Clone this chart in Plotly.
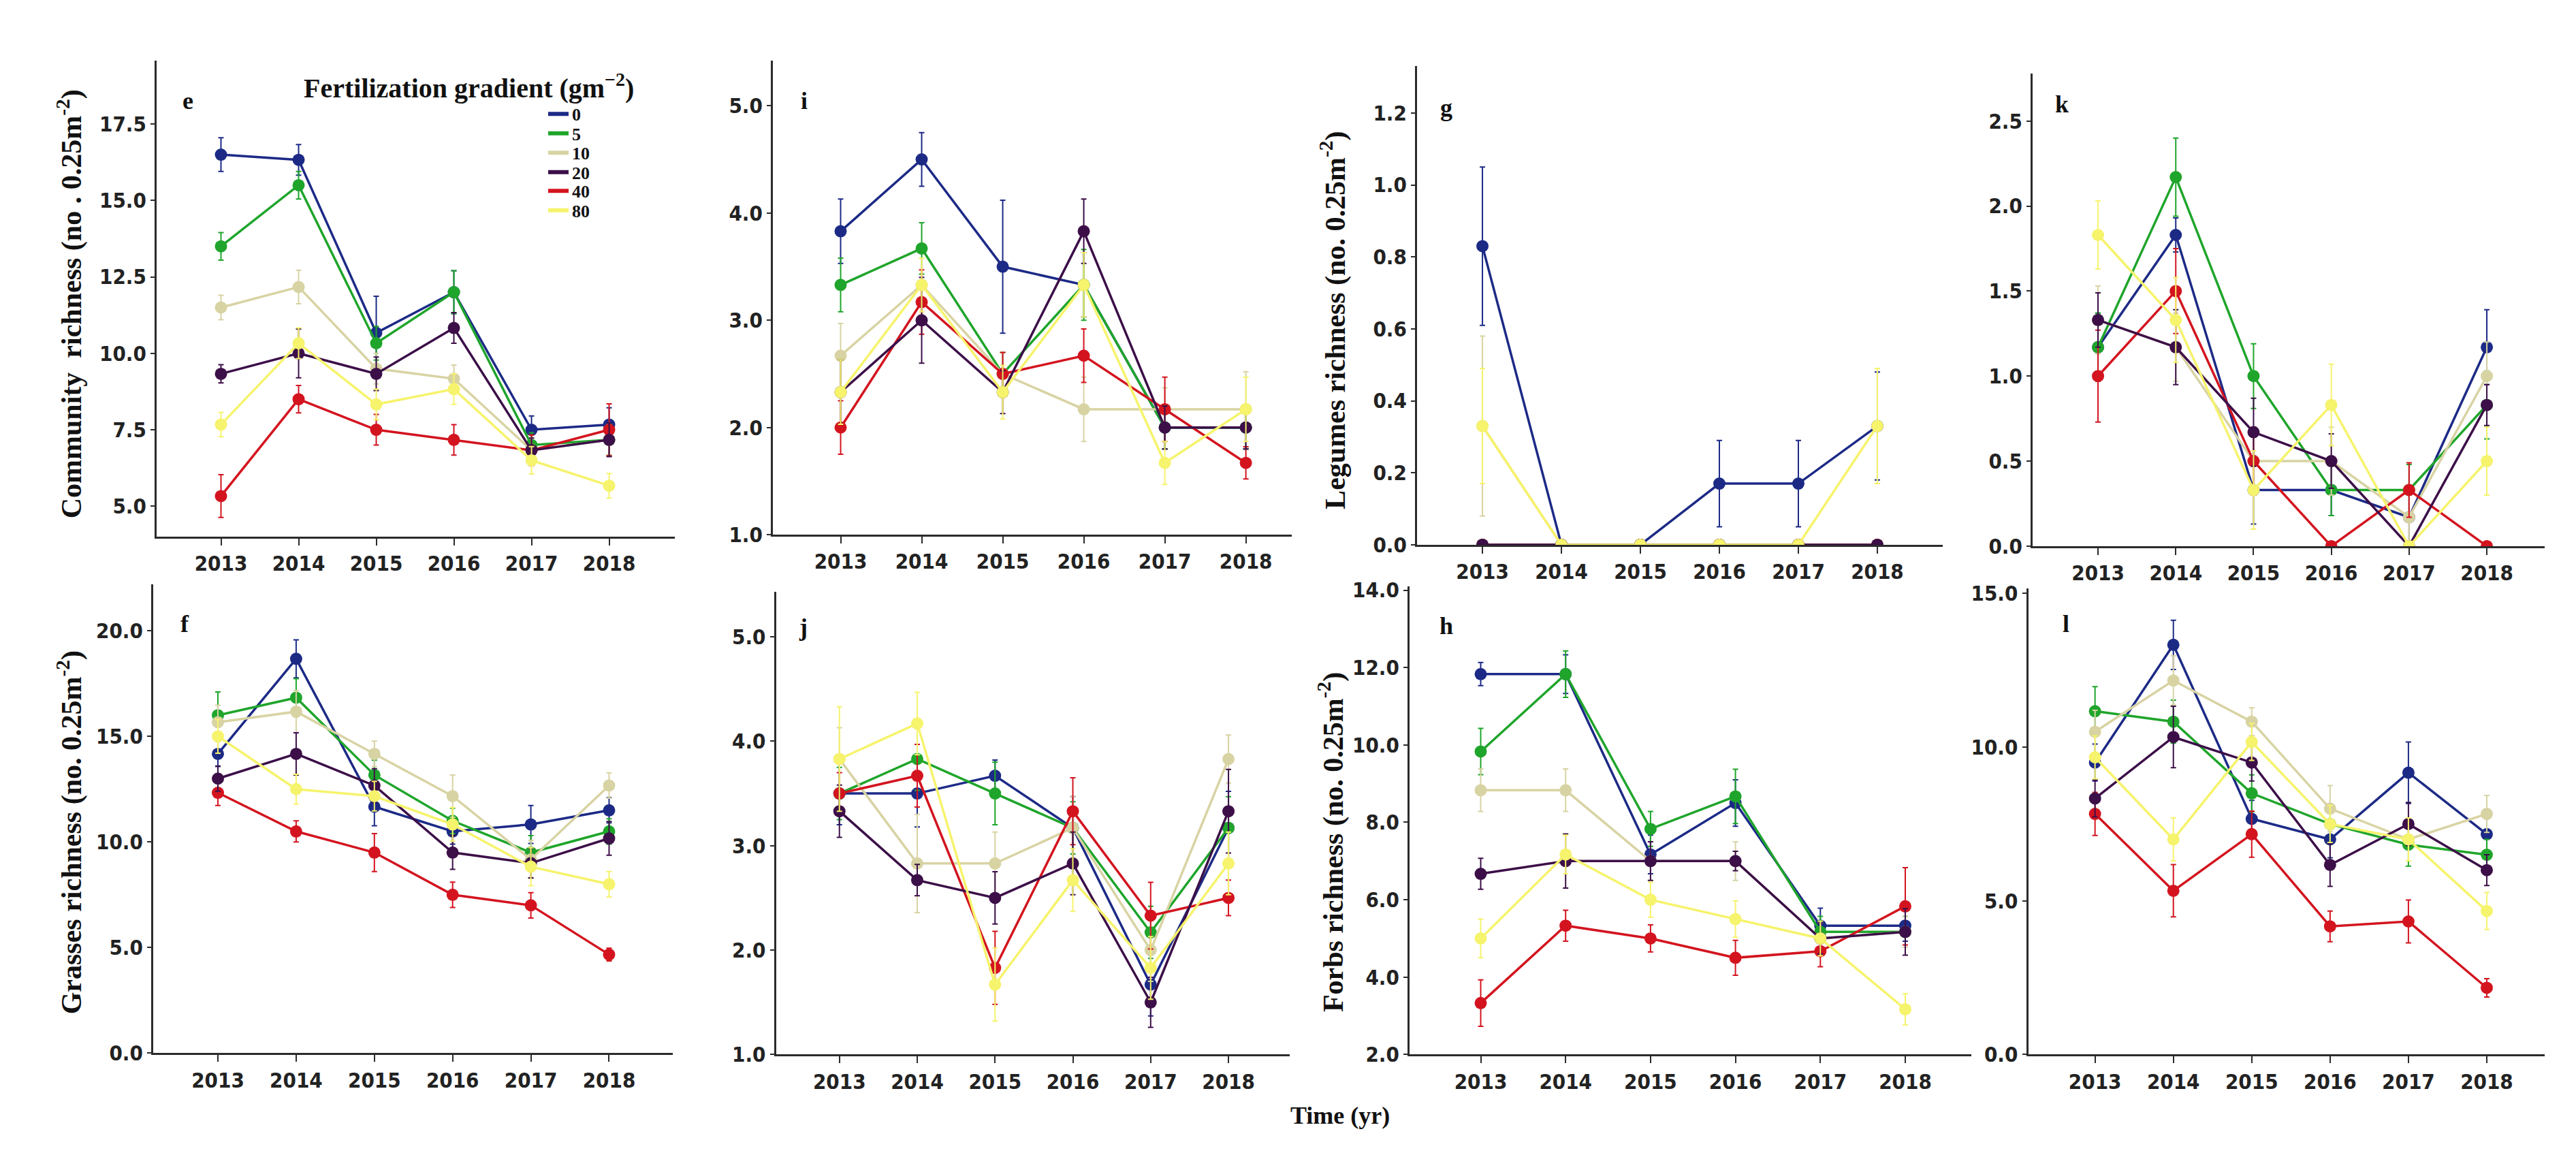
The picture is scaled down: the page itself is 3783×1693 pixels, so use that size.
import plotly.graph_objects as go

W, H = 3783, 1693

YEARS = [2013, 2014, 2015, 2016, 2017, 2018]
LEVELS = ["0", "5", "10", "20", "40", "80"]
COLORS = ["#1c2a86", "#1fa52b", "#d8d3a3", "#3c0f48", "#d3141f", "#f6f36c"]

# panel e - community richness
COMMUNITY_MEAN = [
    [16.5, 16.33, 10.67, 12.0, 7.5, 7.67],
    [13.5, 15.5, 10.33, 12.0, 7.0, 7.17],
    [11.5, 12.17, 9.5, 9.17, 6.83, 7.17],
    [9.33, 10.0, 9.33, 10.83, 6.83, 7.17],
    [5.33, 8.5, 7.5, 7.17, 6.83, 7.5],
    [7.67, 10.33, 8.33, 8.83, 6.5, 5.67],
]
COMMUNITY_SE = [
    [0.55, 0.5, 1.2, 0.7, 0.45, 0.55],
    [0.45, 0.45, 0.55, 0.7, 0.4, 0.5],
    [0.4, 0.55, 0.5, 0.45, 0.4, 0.5],
    [0.3, 0.8, 0.55, 0.5, 0.4, 0.55],
    [0.7, 0.45, 0.5, 0.5, 0.5, 0.85],
    [0.4, 0.5, 0.5, 0.5, 0.45, 0.4],
]
# panel i
I_MEAN = [
    [3.83, 4.5, 3.5, 3.33, 2.0, 2.0],
    [3.33, 3.67, 2.5, 3.33, 2.0, 2.0],
    [2.67, 3.33, 2.5, 2.17, 2.17, 2.17],
    [2.33, 3.0, 2.33, 3.83, 2.0, 2.0],
    [2.0, 3.17, 2.5, 2.67, 2.17, 1.67],
    [2.33, 3.33, 2.33, 3.33, 1.67, 2.17],
]
I_SE = [
    [0.3, 0.25, 0.62, 0.3, 0.2, 0.2],
    [0.25, 0.24, 0.2, 0.33, 0.2, 0.2],
    [0.3, 0.25, 0.2, 0.3, 0.2, 0.35],
    [0.3, 0.4, 0.2, 0.3, 0.2, 0.2],
    [0.25, 0.3, 0.2, 0.25, 0.3, 0.15],
    [0.3, 0.25, 0.25, 0.3, 0.2, 0.3],
]
# panel g - legumes richness
LEGUMES_MEAN = [
    [0.83, 0.0, 0.0, 0.17, 0.17, 0.33],
    [0.0, 0.0, 0.0, 0.0, 0.0, 0.0],
    [0.33, 0.0, 0.0, 0.0, 0.0, 0.0],
    [0.0, 0.0, 0.0, 0.0, 0.0, 0.0],
    [0.0, 0.0, 0.0, 0.0, 0.0, 0.0],
    [0.33, 0.0, 0.0, 0.0, 0.0, 0.33],
]
LEGUMES_SE = [
    [0.22, 0.0, 0.0, 0.12, 0.12, 0.15],
    [0.0, 0.0, 0.0, 0.0, 0.0, 0.0],
    [0.25, 0.0, 0.0, 0.0, 0.0, 0.0],
    [0.0, 0.0, 0.0, 0.0, 0.0, 0.0],
    [0.0, 0.0, 0.0, 0.0, 0.0, 0.0],
    [0.16, 0.0, 0.0, 0.0, 0.0, 0.16],
]
# panel k
K_MEAN = [
    [1.17, 1.83, 0.33, 0.33, 0.17, 1.17],
    [1.17, 2.17, 1.0, 0.33, 0.33, 0.83],
    [1.33, 1.17, 0.5, 0.5, 0.17, 1.0],
    [1.33, 1.17, 0.67, 0.5, 0.0, 0.83],
    [1.0, 1.5, 0.5, 0.0, 0.33, 0.0],
    [1.83, 1.33, 0.33, 0.83, 0.0, 0.5],
]
K_SE = [
    [0.2, 0.1, 0.2, 0.15, 0.15, 0.22],
    [0.2, 0.23, 0.19, 0.15, 0.15, 0.2],
    [0.2, 0.2, 0.2, 0.2, 0.15, 0.2],
    [0.16, 0.22, 0.2, 0.16, 0.0, 0.12],
    [0.27, 0.25, 0.2, 0.0, 0.16, 0.0],
    [0.2, 0.25, 0.23, 0.24, 0.0, 0.2],
]
# panel f - grasses richness
GRASSES_MEAN = [
    [14.17, 18.67, 11.67, 10.5, 10.83, 11.5],
    [16.0, 16.83, 13.17, 11.0, 9.5, 10.5],
    [15.67, 16.17, 14.17, 12.17, 9.17, 12.67],
    [13.0, 14.17, 12.67, 9.5, 9.0, 10.17],
    [12.33, 10.5, 9.5, 7.5, 7.0, 4.67],
    [15.0, 12.5, 12.17, 10.83, 8.83, 8.0],
]
GRASSES_SE = [
    [0.6, 0.9, 0.9, 0.6, 0.9, 0.6],
    [1.1, 0.9, 0.7, 0.6, 0.8, 0.6],
    [0.8, 1.0, 0.6, 1.0, 0.9, 0.6],
    [0.6, 1.0, 0.8, 0.8, 0.7, 0.8],
    [0.6, 0.5, 0.9, 0.6, 0.6, 0.3],
    [0.8, 0.7, 0.7, 0.8, 0.9, 0.6],
]
# panel j
J_MEAN = [
    [3.5, 3.5, 3.67, 3.17, 1.67, 3.17],
    [3.5, 3.83, 3.5, 3.17, 2.17, 3.17],
    [3.83, 2.83, 2.83, 3.17, 2.0, 3.83],
    [3.33, 2.67, 2.5, 2.83, 1.5, 3.33],
    [3.5, 3.67, 1.83, 3.33, 2.33, 2.5],
    [3.83, 4.17, 1.67, 2.67, 1.83, 2.83],
]
J_SE = [
    [0.3, 0.32, 0.15, 0.3, 0.3, 0.35],
    [0.25, 0.3, 0.3, 0.25, 0.25, 0.3],
    [0.3, 0.47, 0.3, 0.3, 0.3, 0.23],
    [0.25, 0.15, 0.25, 0.3, 0.24, 0.4],
    [0.2, 0.3, 0.35, 0.32, 0.32, 0.17],
    [0.5, 0.3, 0.35, 0.3, 0.3, 0.3],
]
# panel h - forbs richness
FORBS_MEAN = [
    [11.83, 11.83, 7.17, 8.5, 5.33, 5.33],
    [9.83, 11.83, 7.83, 8.67, 5.17, 5.17],
    [8.83, 8.83, 7.0, 7.0, 5.0, 5.17],
    [6.67, 7.0, 7.0, 7.0, 5.0, 5.17],
    [3.33, 5.33, 5.0, 4.5, 4.67, 5.83],
    [5.0, 7.17, 6.0, 5.5, 5.0, 3.17],
]
FORBS_SE = [
    [0.3, 0.5, 0.5, 0.6, 0.45, 0.4],
    [0.6, 0.6, 0.45, 0.7, 0.4, 0.4],
    [0.55, 0.55, 0.5, 0.5, 0.4, 0.4],
    [0.4, 0.7, 0.5, 0.25, 0.4, 0.6],
    [0.6, 0.4, 0.35, 0.45, 0.4, 1.0],
    [0.5, 0.5, 0.45, 0.47, 0.45, 0.4],
]
# panel l
L_MEAN = [
    [9.5, 13.33, 7.67, 7.0, 9.17, 7.17],
    [11.17, 10.83, 8.5, 7.5, 6.83, 6.5],
    [10.5, 12.17, 10.83, 8.0, 7.0, 7.83],
    [8.33, 10.33, 9.5, 6.17, 7.5, 6.0],
    [7.83, 5.33, 7.17, 4.17, 4.33, 2.17],
    [9.67, 7.0, 10.17, 7.5, 7.0, 4.67],
]
L_SE = [
    [0.6, 0.8, 0.6, 0.6, 1.0, 0.6],
    [0.8, 0.7, 0.6, 0.6, 0.7, 0.5],
    [0.7, 0.8, 0.45, 0.75, 0.7, 0.6],
    [0.6, 1.0, 0.6, 0.7, 0.7, 0.5],
    [0.7, 0.85, 0.75, 0.5, 0.7, 0.3],
    [0.7, 0.7, 0.6, 0.6, 0.7, 0.6],
]

SERIF = "Liberation Serif, Times New Roman, serif"
NARROW = "Liberation Sans Narrow, Arial Narrow, DejaVu Sans Condensed, sans-serif"

# layout geometry (pixels): axis-left, axis-right, plot-top, plot-bottom; x range; y range
PANELS = [
    dict(letter="e", mean=COMMUNITY_MEAN, se=COMMUNITY_SE,
         title="Community  richness (no . 0.25m<sup>-2</sup>)", tx=95, ty=434, lx=268, ly=130,
         px=(222, 983, 70.5, 782), xr=(2012.171, 2018.846), yr=(4.0, 19.57), dt=2.5, t0=5.0),
    dict(letter="i", mean=I_MEAN, se=I_SE, title=None, lx=1173, ly=130,
         px=(1127, 1889, 70.5, 779), xr=(2012.164, 2018.566), yr=(1.0, 5.42), dt=1.0, t0=1.0),
    dict(letter="g", mean=LEGUMES_MEAN, se=LEGUMES_SE,
         title="Legumes richness (no. 0.25m<sup>-2</sup>)", tx=1950, ty=458, lx=2116, ly=140,
         px=(2073, 2845, 78.6, 794), xr=(2012.172, 2018.828), yr=(0.0, 1.33), dt=0.2, t0=0.0),
    dict(letter="k", mean=K_MEAN, se=K_SE, title=None, lx=3020, ly=135,
         px=(2977, 3729, 89.4, 796), xr=(2012.159, 2018.744), yr=(0.0, 2.78), dt=0.5, t0=0.0),
    dict(letter="f", mean=GRASSES_MEAN, se=GRASSES_SE,
         title="Grasses richness (no. 0.25m<sup>-2</sup>)", tx=95, ty=1224, lx=263, ly=912,
         px=(217, 980, 853, 1554), xr=(2012.173, 2018.814), yr=(0.0, 22.2), dt=5.0, t0=0.0),
    dict(letter="j", mean=J_MEAN, se=J_SE, title=None, lx=1171, ly=917,
         px=(1131.6, 1886, 864.5, 1556), xr=(2012.185, 2018.787), yr=(1.0, 5.43), dt=1.0, t0=1.0),
    dict(letter="h", mean=FORBS_MEAN, se=FORBS_SE,
         title="Forbs richness (no. 0.25m<sup>-2</sup>)", tx=1947, ty=1238, lx=2116, ly=915,
         px=(2062, 2887, 856, 1556), xr=(2012.162, 2018.778), yr=(2.0, 14.1), dt=2.0, t0=2.0),
    dict(letter="l", mean=L_MEAN, se=L_SE, title=None, lx=3026, ly=912,
         px=(2970.5, 3729, 859, 1556), xr=(2012.147, 2018.739), yr=(0.0, 15.17), dt=5.0, t0=0.0),
]

DRAW_ORDER = [0, 1, 2, 4, 3, 5]

fig = go.Figure()
layout = dict(
    width=W, height=H, margin=dict(l=0, r=0, t=0, b=0),
    paper_bgcolor="white", plot_bgcolor="white",
    annotations=[],
)

AXCOL = "#2b2b2b"
tickfont = dict(family=NARROW, size=31, color="#222222", weight="bold")


def ann(x, y, text, font, angle=0):
    return dict(x=x / W, y=1 - y / H, xref="paper", yref="paper", text=text,
                showarrow=False, textangle=angle, xanchor="center", yanchor="middle",
                font=font)


for k, p in enumerate(PANELS):
    n = k + 1
    xa = "x" if n == 1 else f"x{n}"
    ya = "y" if n == 1 else f"y{n}"
    xl, xrgt, yt, yb = p["px"]
    for s in DRAW_ORDER:
        fig.add_trace(go.Scatter(
            x=YEARS, y=p["mean"][s], xaxis=xa, yaxis=ya,
            mode="lines+markers", showlegend=False, name=LEVELS[s],
            line=dict(color=COLORS[s], width=3.5),
            marker=dict(color=COLORS[s], size=18),
            error_y=dict(type="data", array=p["se"][s], color=COLORS[s], thickness=2, width=4),
        ))
    nticks = []
    v = p["t0"]
    while v <= p["yr"][1] + 1e-9:
        nticks.append(round(v, 4))
        v += p["dt"]
    layout["xaxis" if n == 1 else f"xaxis{n}"] = dict(
        domain=[xl / W, xrgt / W], range=list(p["xr"]), anchor=ya,
        tickvals=YEARS, ticktext=[str(y) for y in YEARS],
        showline=True, linecolor=AXCOL, linewidth=3, ticks="outside", ticklen=10,
        tickwidth=2, tickcolor=AXCOL, tickfont=tickfont, showgrid=False, zeroline=False,
    )
    layout["yaxis" if n == 1 else f"yaxis{n}"] = dict(
        domain=[1 - yb / H, 1 - yt / H], range=list(p["yr"]), anchor=xa,
        tickvals=nticks, tickformat=".1f",
        showline=True, linecolor=AXCOL, linewidth=3, ticks="outside", ticklen=6,
        tickwidth=2, tickcolor=AXCOL, tickfont=tickfont, showgrid=False, zeroline=False,
    )
    layout["annotations"].append(ann(
        p["lx"], p["ly"], p["letter"],
        dict(family=SERIF, size=36, color="#111111", weight="bold")))
    if p["title"]:
        layout["annotations"].append(ann(
            p["tx"], p["ty"], p["title"],
            dict(family=SERIF, size=42, color="#111111", weight="bold"), angle=-90))

# legend entries (line swatches only), one small legend per level for tight spacing
LEGEND_ROW_Y = [150, 179, 208, 237, 265, 294]
for s in range(6):
    key = "legend" if s == 0 else f"legend{s + 1}"
    fig.add_trace(go.Scatter(
        x=[None], y=[None], mode="lines", name=LEVELS[s], showlegend=True,
        legend=key, line=dict(color=COLORS[s], width=6),
    ))
    layout[key] = dict(
        x=792 / W, y=1 - LEGEND_ROW_Y[s] / H, xanchor="left", yanchor="middle",
        bgcolor="rgba(0,0,0,0)", borderwidth=0, itemwidth=30,
        font=dict(family=SERIF, size=26, color="#111111", weight="bold"),
    )

layout["annotations"].append(ann(
    680, 108, "Fertilization gradient (gm<sup>\u22122</sup>)",
    dict(family=SERIF, size=40, color="#111111", weight="bold")))
layout["annotations"].append(ann(
    1960, 1647, "Time (yr)",
    dict(family=SERIF, size=36, color="#111111", weight="bold")))

fig.update_layout(**layout)
fig.write_html("out.html")
